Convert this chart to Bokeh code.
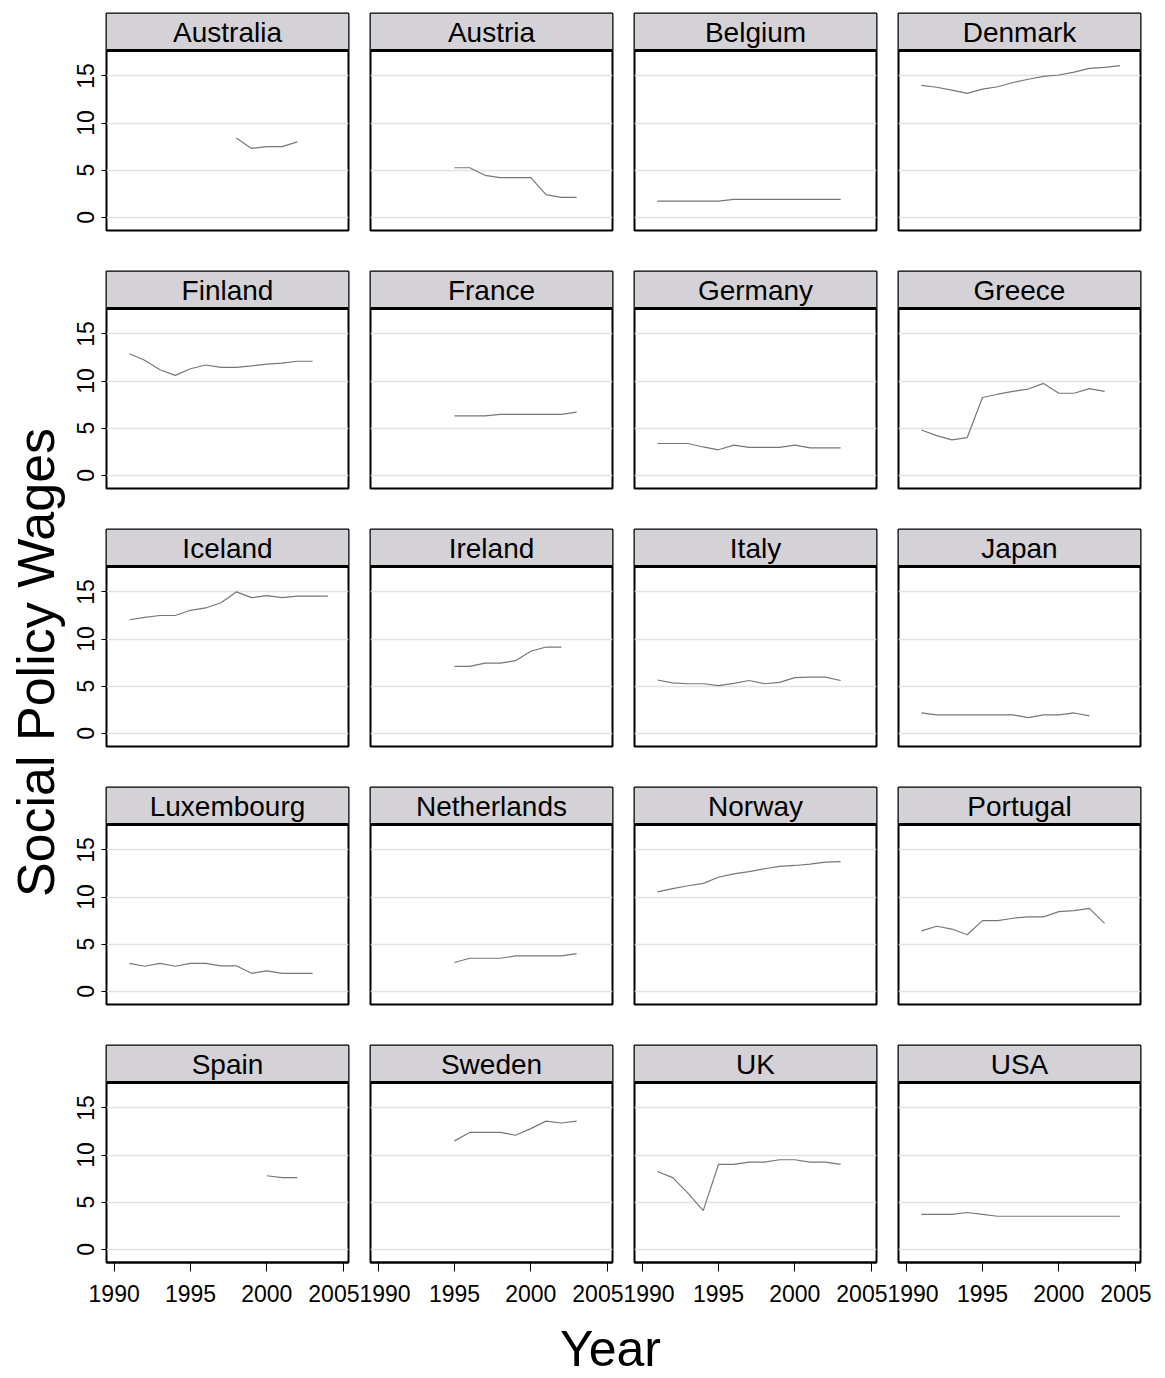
from bokeh.plotting import figure
from bokeh.models import Range1d, LinearAxis, FixedTicker, BoxAnnotation, Span, Label
from bokeh.layouts import gridplot, row, column
from bokeh.embed import file_html
from bokeh.resources import INLINE
from bokeh.core.properties import value

# ---------------- data ----------------
COUNTRIES = ["Australia", "Austria", "Belgium", "Denmark",
             "Finland", "France", "Germany", "Greece",
             "Iceland", "Ireland", "Italy", "Japan",
             "Luxembourg", "Netherlands", "Norway", "Portugal",
             "Spain", "Sweden", "UK", "USA"]

AUSTRALIA_YEARS = [1998, 1999, 2000, 2001, 2002]
AUSTRALIA_VALUES = [8.4, 7.3, 7.5, 7.5, 8.0]

AUSTRIA_YEARS = [1995, 1996, 1997, 1998, 1999, 2000, 2001, 2002, 2003]
AUSTRIA_VALUES = [5.25, 5.25, 4.45, 4.2, 4.2, 4.2, 2.4, 2.1, 2.1]

BELGIUM_YEARS = [1991, 1992, 1993, 1994, 1995, 1996, 1997, 1998, 1999, 2000, 2001, 2002, 2003]
BELGIUM_VALUES = [1.7, 1.7, 1.7, 1.7, 1.7, 1.9, 1.9, 1.9, 1.9, 1.9, 1.9, 1.9, 1.9]

DENMARK_YEARS = [1991, 1992, 1993, 1994, 1995, 1996, 1997, 1998, 1999, 2000, 2001, 2002, 2003, 2004]
DENMARK_VALUES = [14.0, 13.8, 13.5, 13.15, 13.6, 13.85, 14.3, 14.65, 14.95, 15.1, 15.4, 15.8, 15.9, 16.1]

FINLAND_YEARS = [1991, 1992, 1993, 1994, 1995, 1996, 1997, 1998, 1999, 2000, 2001, 2002, 2003]
FINLAND_VALUES = [12.9, 12.2, 11.2, 10.6, 11.3, 11.7, 11.45, 11.45, 11.6, 11.8, 11.9, 12.1, 12.1]

FRANCE_YEARS = [1995, 1996, 1997, 1998, 1999, 2000, 2001, 2002, 2003]
FRANCE_VALUES = [6.3, 6.3, 6.3, 6.45, 6.45, 6.45, 6.45, 6.45, 6.7]

GERMANY_YEARS = [1991, 1992, 1993, 1994, 1995, 1996, 1997, 1998, 1999, 2000, 2001, 2002, 2003]
GERMANY_VALUES = [3.37, 3.37, 3.37, 3.0, 2.7, 3.2, 2.95, 2.95, 2.95, 3.2, 2.9, 2.9, 2.9]

GREECE_YEARS = [1991, 1992, 1993, 1994, 1995, 1996, 1997, 1998, 1999, 2000, 2001, 2002, 2003]
GREECE_VALUES = [4.8, 4.2, 3.75, 4.0, 8.25, 8.6, 8.9, 9.15, 9.75, 8.7, 8.7, 9.2, 8.9]

ICELAND_YEARS = [1991, 1992, 1993, 1994, 1995, 1996, 1997, 1998, 1999, 2000, 2001, 2002, 2003, 2004]
ICELAND_VALUES = [12.05, 12.3, 12.5, 12.5, 13.05, 13.3, 13.85, 15.0, 14.4, 14.6, 14.4, 14.55, 14.55, 14.55]

IRELAND_YEARS = [1995, 1996, 1997, 1998, 1999, 2000, 2001, 2002]
IRELAND_VALUES = [7.1, 7.1, 7.45, 7.45, 7.7, 8.7, 9.15, 9.15]

ITALY_YEARS = [1991, 1992, 1993, 1994, 1995, 1996, 1997, 1998, 1999, 2000, 2001, 2002, 2003]
ITALY_VALUES = [5.65, 5.35, 5.25, 5.25, 5.05, 5.3, 5.6, 5.25, 5.4, 5.9, 5.95, 5.95, 5.6]

JAPAN_YEARS = [1991, 1992, 1993, 1994, 1995, 1996, 1997, 1998, 1999, 2000, 2001, 2002]
JAPAN_VALUES = [2.15, 1.95, 1.95, 1.95, 1.95, 1.95, 1.95, 1.65, 1.95, 1.95, 2.15, 1.85]

LUXEMBOURG_YEARS = [1991, 1992, 1993, 1994, 1995, 1996, 1997, 1998, 1999, 2000, 2001, 2002, 2003]
LUXEMBOURG_VALUES = [2.95, 2.65, 2.95, 2.65, 2.95, 2.95, 2.7, 2.7, 1.9, 2.15, 1.9, 1.9, 1.9]

NETHERLANDS_YEARS = [1995, 1996, 1997, 1998, 1999, 2000, 2001, 2002, 2003]
NETHERLANDS_VALUES = [3.05, 3.5, 3.5, 3.5, 3.75, 3.75, 3.75, 3.75, 4.0]

NORWAY_YEARS = [1991, 1992, 1993, 1994, 1995, 1996, 1997, 1998, 1999, 2000, 2001, 2002, 2003]
NORWAY_VALUES = [10.55, 10.9, 11.2, 11.45, 12.1, 12.45, 12.7, 13.0, 13.25, 13.35, 13.5, 13.7, 13.75]

PORTUGAL_YEARS = [1991, 1992, 1993, 1994, 1995, 1996, 1997, 1998, 1999, 2000, 2001, 2002, 2003]
PORTUGAL_VALUES = [6.4, 6.9, 6.6, 6.0, 7.5, 7.5, 7.75, 7.9, 7.9, 8.45, 8.55, 8.8, 7.2]

SPAIN_YEARS = [2000, 2001, 2002]
SPAIN_VALUES = [7.8, 7.6, 7.6]

SWEDEN_YEARS = [1995, 1996, 1997, 1998, 1999, 2000, 2001, 2002, 2003]
SWEDEN_VALUES = [11.5, 12.4, 12.4, 12.4, 12.1, 12.8, 13.6, 13.4, 13.6]

UK_YEARS = [1991, 1992, 1993, 1994, 1995, 1996, 1997, 1998, 1999, 2000, 2001, 2002, 2003]
UK_VALUES = [8.25, 7.6, 5.95, 4.1, 9.0, 9.0, 9.25, 9.25, 9.5, 9.5, 9.25, 9.25, 9.0]

USA_YEARS = [1991, 1992, 1993, 1994, 1995, 1996, 1997, 1998, 1999, 2000, 2001, 2002, 2003, 2004]
USA_VALUES = [3.7, 3.7, 3.7, 3.9, 3.7, 3.5, 3.5, 3.5, 3.5, 3.5, 3.5, 3.5, 3.5, 3.5]

SERIES = {
    "Australia": (AUSTRALIA_YEARS, AUSTRALIA_VALUES),
    "Austria": (AUSTRIA_YEARS, AUSTRIA_VALUES),
    "Belgium": (BELGIUM_YEARS, BELGIUM_VALUES),
    "Denmark": (DENMARK_YEARS, DENMARK_VALUES),
    "Finland": (FINLAND_YEARS, FINLAND_VALUES),
    "France": (FRANCE_YEARS, FRANCE_VALUES),
    "Germany": (GERMANY_YEARS, GERMANY_VALUES),
    "Greece": (GREECE_YEARS, GREECE_VALUES),
    "Iceland": (ICELAND_YEARS, ICELAND_VALUES),
    "Ireland": (IRELAND_YEARS, IRELAND_VALUES),
    "Italy": (ITALY_YEARS, ITALY_VALUES),
    "Japan": (JAPAN_YEARS, JAPAN_VALUES),
    "Luxembourg": (LUXEMBOURG_YEARS, LUXEMBOURG_VALUES),
    "Netherlands": (NETHERLANDS_YEARS, NETHERLANDS_VALUES),
    "Norway": (NORWAY_YEARS, NORWAY_VALUES),
    "Portugal": (PORTUGAL_YEARS, PORTUGAL_VALUES),
    "Spain": (SPAIN_YEARS, SPAIN_VALUES),
    "Sweden": (SWEDEN_YEARS, SWEDEN_VALUES),
    "UK": (UK_YEARS, UK_VALUES),
    "USA": (USA_YEARS, USA_VALUES),
}

X_TICKS = [1990, 1995, 2000, 2005]
Y_TICKS = [0, 5, 10, 15]
X_LABEL = "Year"
Y_LABEL = "Social Policy Wages"

# ---------------- layout / style ----------------
FONT = "Liberation Sans"
X_MIN, X_MAX = 1989.5, 2005.35
Y_MIN, Y_MAX = -1.41, 17.7
NCOLS, NROWS = 4, 5
FRAME_W = 242
PLOT_PX = 180
STRIP_PX = 37
FRAME_H = PLOT_PX + STRIP_PX
Y_TOP = Y_MAX + (Y_MAX - Y_MIN) * STRIP_PX / PLOT_PX

YLAB_W = 67
LEFT_COL_BORDER = 39
SIDE_BORDER = 11
FIRST_TOP_BORDER = 13
TOP_BORDER = 5
BOTTOM_BORDER = 36
LAST_BOTTOM_BORDER = 50
XLAB_H = 66

STRIP_FILL = "#d4d2d6"
LINE_COLOR = "#777777"
GRID_COLOR = "#e2e2e2"


def make_panel(name, r, c):
    left_b = LEFT_COL_BORDER if c == 0 else SIDE_BORDER
    top_b = FIRST_TOP_BORDER if r == 0 else TOP_BORDER
    bottom_b = LAST_BOTTOM_BORDER if r == NROWS - 1 else BOTTOM_BORDER
    p = figure(frame_width=FRAME_W, frame_height=FRAME_H,
               x_range=Range1d(X_MIN, X_MAX), y_range=Range1d(Y_MIN, Y_TOP),
               x_axis_location=None, y_axis_location=None,
               toolbar_location=None, output_backend="svg", title=None,
               min_border_left=left_b, min_border_right=SIDE_BORDER,
               min_border_top=top_b, min_border_bottom=bottom_b,
               background_fill_color="white", border_fill_color="white")
    p.xgrid.visible = False
    p.ygrid.ticker = FixedTicker(ticks=Y_TICKS)
    p.ygrid.grid_line_color = GRID_COLOR
    p.ygrid.grid_line_width = 1.5
    p.outline_line_color = "black"
    p.outline_line_width = 2
    p.outline_line_alpha = 1.0

    xs, ys = SERIES[name]
    p.line(xs, ys, line_color=LINE_COLOR, line_width=1.2)

    p.add_layout(BoxAnnotation(bottom=Y_MAX, fill_color=STRIP_FILL, fill_alpha=1.0,
                               line_color=None))
    p.add_layout(Span(location=Y_MAX, dimension="width", line_color="black",
                      line_width=3))
    p.add_layout(Label(x=(X_MIN + X_MAX) / 2, y=(Y_MAX + Y_TOP) / 2, text=name,
                       text_align="center", text_baseline="middle",
                       text_font=FONT, text_font_size="28px", text_color="black"))

    if c == 0:
        ax = LinearAxis(ticker=FixedTicker(ticks=Y_TICKS),
                        major_label_orientation="vertical",
                        major_tick_out=5, major_tick_in=0,
                        minor_tick_out=0, minor_tick_in=0,
                        axis_line_color=None,
                        major_tick_line_color="black", major_tick_line_width=1,
                        major_label_standoff=7,
                        major_label_text_font=FONT,
                        major_label_text_font_size="23px",
                        major_label_text_color="black")
        p.add_layout(ax, "left")
    if r == NROWS - 1:
        ax = LinearAxis(ticker=FixedTicker(ticks=X_TICKS),
                        major_tick_out=9, major_tick_in=0,
                        minor_tick_out=0, minor_tick_in=0,
                        axis_line_color="black", axis_line_width=2,
                        major_tick_line_color="black", major_tick_line_width=1,
                        major_label_standoff=13,
                        major_label_text_font=FONT,
                        major_label_text_font_size="23px",
                        major_label_text_color="black")
        p.add_layout(ax, "below")
    return p


rows = []
for r in range(NROWS):
    rows.append([make_panel(COUNTRIES[r * NCOLS + c], r, c) for c in range(NCOLS)])

grid = gridplot(rows, toolbar_location=None)

GRID_W = LEFT_COL_BORDER + FRAME_W + SIDE_BORDER + (NCOLS - 1) * (2 * SIDE_BORDER + FRAME_W)
GRID_H = (FIRST_TOP_BORDER + FRAME_H + BOTTOM_BORDER) + (NROWS - 2) * (TOP_BORDER + FRAME_H + BOTTOM_BORDER) \
    + TOP_BORDER + FRAME_H + LAST_BOTTOM_BORDER

# y-axis title strip (pixel coordinates, y downward)
ylab = figure(frame_width=YLAB_W, frame_height=GRID_H,
              x_range=Range1d(0, YLAB_W), y_range=Range1d(GRID_H, 0),
              x_axis_location=None, y_axis_location=None, title=None,
              toolbar_location=None, output_backend="svg",
              min_border=0, outline_line_color=None)
ylab.xgrid.visible = False
ylab.ygrid.visible = False
ylab.text(x=[35], y=[662], text=[Y_LABEL], angle=1.5707963267948966,
          text_align="center", text_baseline="middle",
          text_font=value(FONT), text_font_size="52px", text_color="black")

xlab = figure(frame_width=GRID_W, frame_height=XLAB_H,
              x_range=Range1d(YLAB_W, YLAB_W + GRID_W), y_range=Range1d(XLAB_H, 0),
              x_axis_location=None, y_axis_location=None, title=None,
              toolbar_location=None, output_backend="svg",
              min_border=0, outline_line_color=None)
xlab.xgrid.visible = False
xlab.ygrid.visible = False
xlab.text(x=[610], y=[36], text=[X_LABEL],
          text_align="center", text_baseline="middle",
          text_font=value(FONT), text_font_size="50px", text_color="black")

layout = row(ylab, column(grid, xlab))

open("out.html", "w").write(file_html(layout, INLINE))
